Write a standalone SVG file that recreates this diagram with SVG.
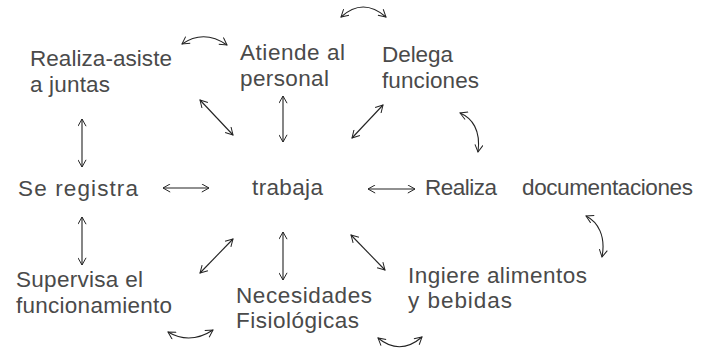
<svg xmlns="http://www.w3.org/2000/svg" width="703" height="350" viewBox="0 0 703 350">
<defs>
<marker id="ah" viewBox="0 0 10 10" refX="9" refY="5" markerWidth="9" markerHeight="9" markerUnits="userSpaceOnUse" orient="auto-start-reverse">
<path d="M1,0.5 L9,5 L1,9.5" fill="none" stroke="#222" stroke-width="1.1"/>
</marker>
<style>
text{font-family:"Liberation Sans","DejaVu Sans",sans-serif;font-size:22.5px;fill:#4a4a4a}
.c{fill:none;stroke:#222;stroke-width:1.1;marker-start:url(#ah);marker-end:url(#ah)}
</style>
</defs>
<rect width="703" height="350" fill="#fff"/>
<g id="n-realiza-asiste"><text x="30" y="66" textLength="142" lengthAdjust="spacing">Realiza-asiste</text><text x="30" y="92" textLength="80" lengthAdjust="spacing">a juntas</text></g>
<g id="n-atiende"><text x="240" y="60" textLength="105" lengthAdjust="spacing">Atiende al</text><text x="240" y="86" textLength="89" lengthAdjust="spacing">personal</text></g>
<g id="n-delega"><text x="382" y="62" textLength="71" lengthAdjust="spacing">Delega</text><text x="382" y="88" textLength="97" lengthAdjust="spacing">funciones</text></g>
<g id="n-registra"><text x="18" y="196" textLength="120" lengthAdjust="spacing">Se registra</text></g>
<g id="n-trabaja"><text x="252" y="195" textLength="71" lengthAdjust="spacing">trabaja</text></g>
<g id="n-documentaciones"><text x="425" y="195"><tspan textLength="72" lengthAdjust="spacing">Realiza</tspan> <tspan x="522" textLength="171" lengthAdjust="spacing">documentaciones</tspan></text></g>
<g id="n-supervisa"><text x="16" y="287" textLength="127" lengthAdjust="spacing">Supervisa el</text><text x="16" y="313" textLength="156" lengthAdjust="spacing">funcionamiento</text></g>
<g id="n-necesidades"><text x="236" y="303" textLength="136" lengthAdjust="spacing">Necesidades</text><text x="236" y="328" textLength="123" lengthAdjust="spacing">Fisiológicas</text></g>
<g id="n-ingiere"><text x="408" y="283" textLength="179" lengthAdjust="spacing">Ingiere alimentos</text><text x="408" y="308" textLength="104" lengthAdjust="spacing">y bebidas</text></g>
<g id="connectors">
<path class="c" d="M82,119 L82,167"/>
<path class="c" d="M82,217 L82,265"/>
<path class="c" d="M163,188 L209,188"/>
<path class="c" d="M368,189 L415,189"/>
<path class="c" d="M200,100 L233,135"/>
<path class="c" d="M283,96 L283,142"/>
<path class="c" d="M352,138 L383,105"/>
<path class="c" d="M200,273 L233,239"/>
<path class="c" d="M283,232 L283,280"/>
<path class="c" d="M351,235 L385,270"/>
<path class="c" d="M341,17 Q363,-3 386,17"/>
<path class="c" d="M182,44 Q204,29 227,45"/>
<path class="c" d="M168,332 Q190,345 213,330"/>
<path class="c" d="M378,338 Q400,356 422,337"/>
<path class="c" d="M460,113 C472,118 481,130 478,152"/>
<path class="c" d="M586,216 C598,222 606,236 602,257"/>
</g>
</svg>
